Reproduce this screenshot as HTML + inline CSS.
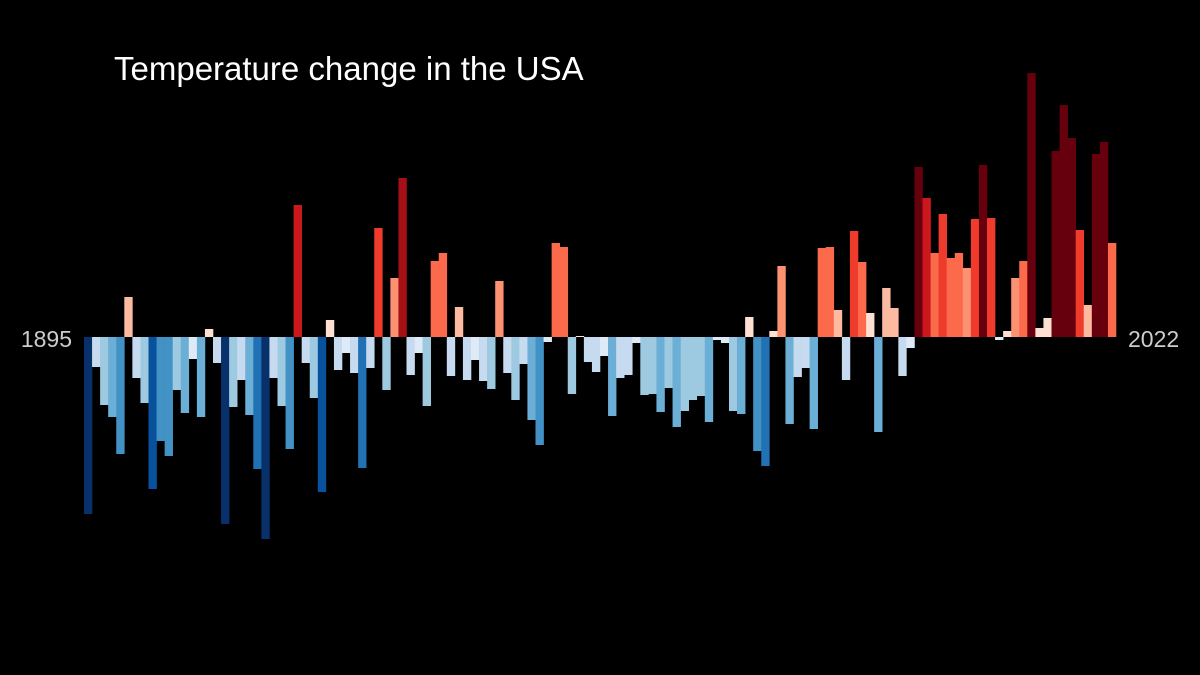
<!DOCTYPE html>
<html><head><meta charset="utf-8"><style>
html,body{margin:0;padding:0;background:#000;width:1200px;height:675px;overflow:hidden}
svg{display:block}
</style></head><body>
<svg id="chart" width="1200" height="675">
<rect width="1200" height="675" fill="#000"/>
<text x="114" y="80" fill="#fff" font-family="Liberation Sans, sans-serif" font-size="33">Temperature change in the USA</text>
<text x="72" y="347" fill="#ccc" text-anchor="end" font-family="Liberation Sans, sans-serif" font-size="23">1895</text>
<text x="1128" y="347" fill="#ccc" font-family="Liberation Sans, sans-serif" font-size="23">2022</text>
<g id="bars"></g>
</svg>
<script>
const startYear = 1895;
const endYear = 2022;
const anomalies = [
-1.77,-0.30,-0.68,-0.80,-1.17,0.40,-0.41,-0.66,-1.52,-1.04,-1.19,-0.53,-0.76,-0.22,-0.80,0.08,
-0.26,-1.87,-0.70,-0.43,-0.78,-1.32,-2.02,-0.41,-0.69,-1.12,1.32,-0.26,-0.61,-1.55,0.17,-0.33,
-0.16,-0.36,-1.31,-0.31,1.09,-0.53,0.59,1.59,-0.38,-0.16,-0.69,0.76,0.84,-0.39,0.30,-0.43,
-0.23,-0.44,-0.52,0.56,-0.36,-0.63,-0.27,-0.83,-1.08,-0.05,0.94,0.90,-0.57,0.01,-0.25,-0.35,
-0.19,-0.79,-0.41,-0.38,-0.06,-0.58,-0.57,-0.75,-0.51,-0.90,-0.74,-0.63,-0.59,-0.85,-0.03,-0.06,
-0.74,-0.77,0.20,-1.14,-1.29,0.06,0.71,-0.87,-0.40,-0.31,-0.92,0.89,0.90,0.27,-0.43,1.06,
0.75,0.24,-0.95,0.49,0.29,-0.39,-0.11,1.70,1.39,0.84,1.23,0.79,0.84,0.69,1.18,1.72,
1.19,-0.03,0.06,0.59,0.76,2.64,0.09,0.19,1.86,2.32,1.99,1.07,0.32,1.83,1.95,0.94
];
const blues = ["#deebf7","#c6dbef","#9ecae1","#6baed6","#4292c6","#2171b5","#08519c","#08306b"];
const reds = ["#fee0d2","#fcbba1","#fc9272","#fb6a4a","#ef3b2c","#cb181d","#a50f15","#67000d"];
const thresholds = [0.25,0.50,0.75,1.00,1.25,1.50,1.65];

const x0 = 84, x1 = 1116, baseY = 337, pxPerUnit = 100;
const n = endYear - startYear + 1;
const bw = (x1 - x0) / n;
function xScale(i){ return x0 + i * bw; }
function yScale(v){ return baseY - v * pxPerUnit; }
function colorFor(v){
  const a = Math.abs(v); let k = 0;
  while (k < thresholds.length && a >= thresholds[k]) k++;
  return v >= 0 ? reds[k] : blues[k];
}
const g = document.getElementById('bars');
const NS = "http://www.w3.org/2000/svg";
anomalies.forEach((v, i) => {
  const r = document.createElementNS(NS, 'rect');
  const y = Math.min(yScale(v), baseY);
  const h = Math.max(Math.abs(yScale(v) - baseY), 1);
  r.setAttribute('x', xScale(i));
  r.setAttribute('y', y);
  r.setAttribute('width', bw + 0.3);
  r.setAttribute('height', h);
  r.setAttribute('fill', colorFor(v));
  
  
  g.appendChild(r);
});
</script>
</body></html>
